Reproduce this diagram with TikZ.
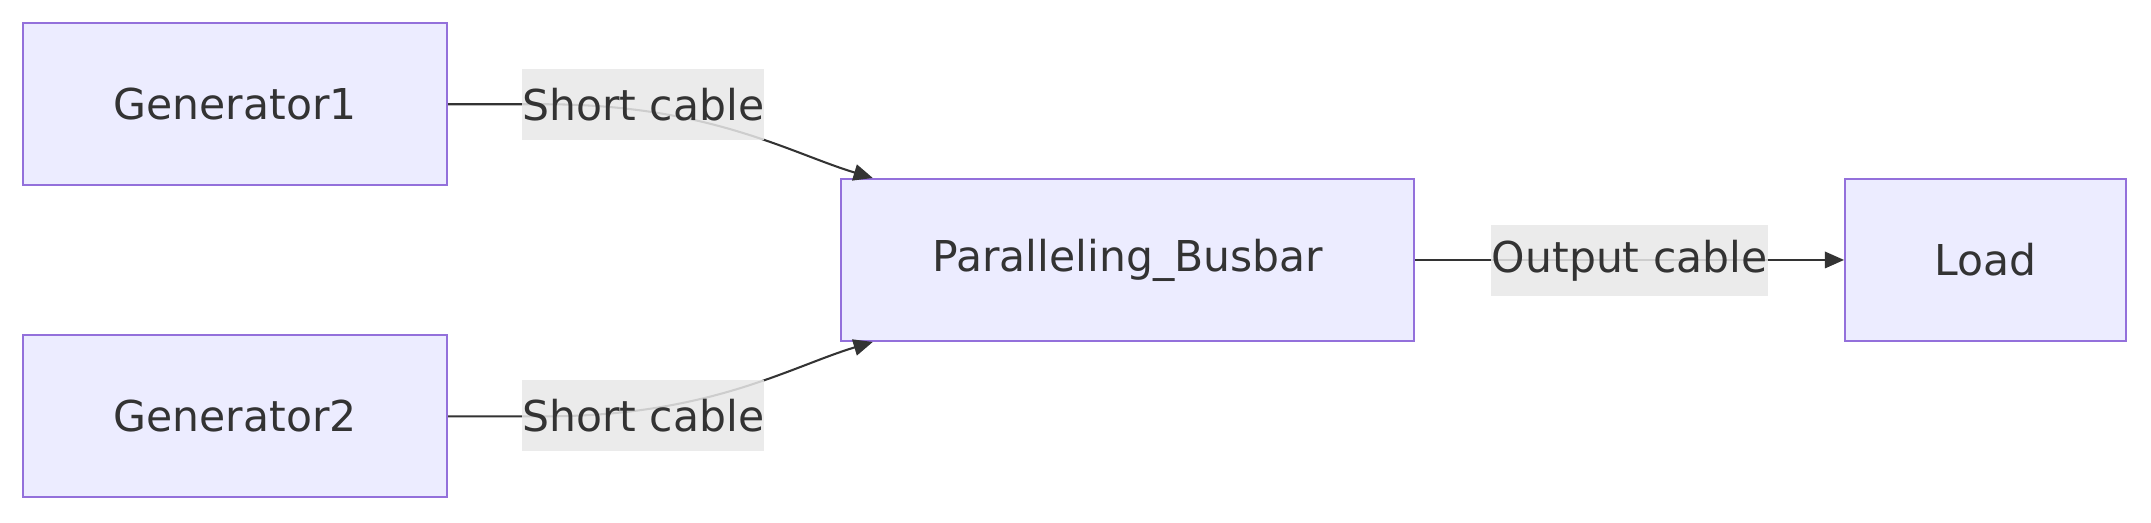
\documentclass[tikz,border=0pt]{standalone}
\usepackage{fontspec}
\setmainfont{DejaVu Sans}
\usetikzlibrary{calc,arrows.meta}
\definecolor{nfill}{HTML}{ECECFF}
\definecolor{nborder}{HTML}{9370DB}
\definecolor{ntext}{HTML}{333333}
\definecolor{lbg}{HTML}{E8E8E8}
\begin{document}
\begin{tikzpicture}[x=1pt,y=-1pt,
  box/.style={draw=nborder,fill=nfill,line width=1.5pt,text=ntext,minimum height=118pt,inner sep=0pt,font=\fontsize{31}{37}\selectfont},
  lbl/.style={fill=lbg,fill opacity=0.85,text opacity=1,text=ntext,minimum height=52pt,inner sep=0pt,font=\fontsize{31}{37}\selectfont},
  conn/.style={draw=ntext,line width=1.5pt,-{Triangle[length=14pt,width=12pt]}}]
\useasboundingbox (0,0) rectangle (1568,381);
\node[box,minimum width=309pt] (g1) at (171.5,76) {Generator1};
\node[box,minimum width=309pt] (g2) at (171.5,303.5) {Generator2};
\node[box,minimum width=418pt] (bus) at (822,189.5) {Paralleling\_Busbar};
\node[box,minimum width=205pt] (load) at (1447.5,189.5) {Load};
\coordinate (t1) at ($(bus.north west)+(24,0)$);
\coordinate (t2) at ($(bus.south west)+(24,0)$);
\draw[conn] (g1.east) -- ++(70,0) .. controls +(120,0) and +(-60,-18) .. (t1);
\draw[conn] (g2.east) -- ++(70,0) .. controls +(120,0) and +(-60,18) .. (t2);
\draw[conn] (bus.east) -- (load.west);
\node[lbl,minimum width=176pt] (l1) at (469,76) {Short cable};
\node[lbl,minimum width=176pt] (l2) at (469,303) {Short cable};
\node[lbl,minimum width=202pt] (l3) at (1188,190) {Output cable};
\end{tikzpicture}
\end{document}
